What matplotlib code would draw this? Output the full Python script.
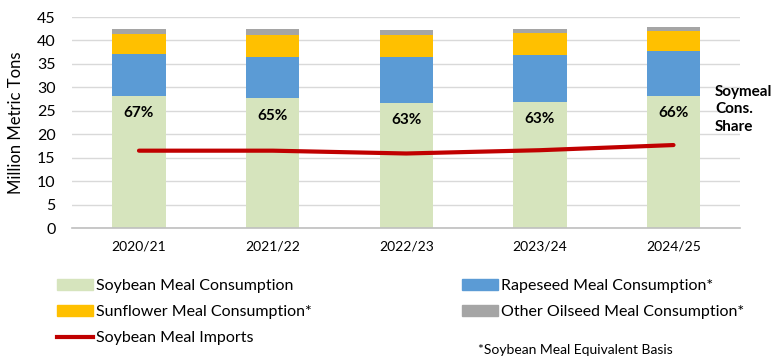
import numpy as np
import matplotlib
matplotlib.use("Agg")
from matplotlib import pyplot as plt
from matplotlib.patches import Patch
from matplotlib.lines import Line2D

plt.rcParams['font.family'] = ['Lato', 'DejaVu Sans']

years = ['2020/21', '2021/22', '2022/23', '2023/24', '2024/25']
soy = [28.2, 27.7, 26.7, 26.9, 28.2]
rapeseed = [9.0, 8.8, 9.8, 9.9, 9.5]
sunflower = [4.2, 4.7, 4.7, 4.7, 4.4]
other = [1.0, 1.2, 1.1, 1.0, 0.8]
imports = [16.5, 16.5, 15.9, 16.6, 17.7]
shares = ['67%', '65%', '63%', '63%', '66%']

c_soy = '#d6e4bd'
c_rape = '#5b9bd5'
c_sun = '#ffc000'
c_other = '#a5a5a5'
c_imp = '#c00000'

fig = plt.figure(figsize=(7.76, 3.62), dpi=100)
ax = fig.add_axes([0.093, 0.370, 0.861, 0.583])

x = np.arange(len(years))
w = 0.4
soy = np.array(soy)
b1 = soy + np.array(rapeseed)
b2 = b1 + np.array(sunflower)
ax.bar(x, soy, w, color=c_soy, zorder=2)
ax.bar(x, rapeseed, w, bottom=soy, color=c_rape, zorder=2)
ax.bar(x, sunflower, w, bottom=b1, color=c_sun, zorder=2)
ax.bar(x, other, w, bottom=b2, color=c_other, zorder=2)
ax.plot(x, imports, color=c_imp, lw=3, zorder=3, solid_capstyle='round')

for i in range(len(years)):
    ax.text(x[i], soy[i] - 3.7, shares[i], ha='center', va='center',
            fontsize=11, fontweight='bold', color='black', zorder=4)

ax.text(4.31, 25.3, 'Soymeal\nCons.\nShare', ha='left', va='center',
        fontsize=11, fontweight='bold', linespacing=1.3)

ax.set_xlim(-0.5, 4.5)
ax.set_ylim(0, 45)
ax.set_yticks(range(0, 46, 5))
ax.set_xticks(x)
ax.set_xticklabels(years, fontsize=10)
ax.tick_params(axis='y', labelsize=11.5, length=0, pad=12)
ax.tick_params(axis='x', length=0, pad=9)
ax.grid(axis='y', color='#d9d9d9', lw=1, zorder=0)
for s in ['top', 'right', 'left']:
    ax.spines[s].set_visible(False)
ax.spines['bottom'].set_color('#bfbfbf')
ax.spines['bottom'].set_linewidth(1.2)
ax.set_ylabel('Million Metric Tons', fontsize=12, labelpad=9)

h1 = [Patch(color=c_soy), Patch(color=c_sun), Line2D([], [], color=c_imp, lw=3)]
l1 = ['Soybean Meal Consumption', 'Sunflower Meal Consumption*', 'Soybean Meal Imports']
h2 = [Patch(color=c_rape), Patch(color=c_other)]
l2 = ['Rapeseed Meal Consumption*', 'Other Oilseed Meal Consumption*']
kw = dict(frameon=False, fontsize=11.5, handlelength=2.3, handleheight=0.6,
          handletextpad=0.15, labelspacing=0.75, borderaxespad=0, borderpad=0)
fig.legend(h1, l1, loc='upper left', bbox_to_anchor=(0.073, 0.229), **kw)
fig.legend(h2, l2, loc='upper left', bbox_to_anchor=(0.595, 0.229), **kw)

fig.text(0.616, 0.033, '*Soybean Meal Equivalent Basis', fontsize=10, ha='left', va='center')

fig.savefig('out.png', dpi=100)
